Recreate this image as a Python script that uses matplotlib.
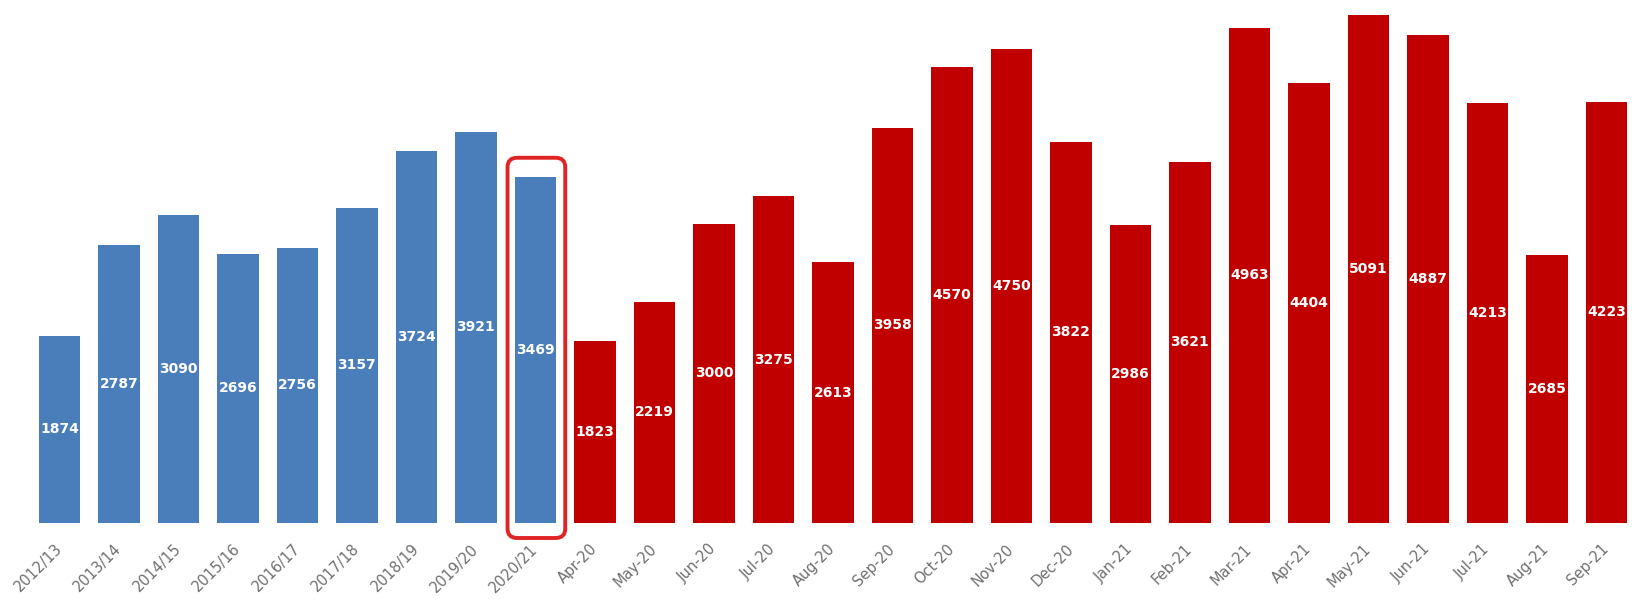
import matplotlib
matplotlib.use("Agg")
import matplotlib.pyplot as plt
from matplotlib.patches import FancyBboxPatch

# Annual totals followed by monthly counts
annual_labels = ["2012/13", "2013/14", "2014/15", "2015/16", "2016/17",
                 "2017/18", "2018/19", "2019/20", "2020/21"]
annual_values = [1874, 2787, 3090, 2696, 2756, 3157, 3724, 3921, 3469]

monthly_labels = ["Apr-20", "May-20", "Jun-20", "Jul-20", "Aug-20", "Sep-20",
                  "Oct-20", "Nov-20", "Dec-20", "Jan-21", "Feb-21", "Mar-21",
                  "Apr-21", "May-21", "Jun-21", "Jul-21", "Aug-21", "Sep-21"]
monthly_values = [1823, 2219, 3000, 3275, 2613, 3958, 4570, 4750, 3822,
                  2986, 3621, 4963, 4404, 5091, 4887, 4213, 2685, 4223]

highlight_label = "2020/21"

BLUE = "#4a7ebb"
RED = "#c00000"

labels = annual_labels + monthly_labels
values = annual_values + monthly_values
colors = [BLUE] * len(annual_values) + [RED] * len(monthly_values)
xs = list(range(len(labels)))

W, H, DPI = 1641, 599, 100
fig = plt.figure(figsize=(W / DPI, H / DPI), dpi=DPI)
bottom_px = 76
ax = fig.add_axes([0, bottom_px / H, 1, (H - bottom_px) / H])

ax.bar(xs, values, width=0.7, color=colors, zorder=2)
ax.axhline(0, color="#e6dcd6", linewidth=0.8, zorder=1)

for x, v in zip(xs, values):
    ax.text(x, v / 2, str(v), ha="center", va="center", color="white",
            fontsize=10, fontweight="bold", zorder=3)

ax.set_xlim(-1.0, 26.58)
ax.set_ylim(0, 5240)
ax.set_xticks(xs)
ax.set_xticklabels(labels, rotation=45, ha="right", va="center",
                   rotation_mode="anchor", fontsize=10.5, color="#707070")
ax.tick_params(axis="x", length=0, pad=17)
ax.set_yticks([])
for s in ax.spines.values():
    s.set_visible(False)

# Rounded frame around the highlighted year
hi = labels.index(highlight_label)
hv = values[hi]
px_per_x = 59.3
units_per_px = 5240 / (H - bottom_px)
box = FancyBboxPatch((hi - 0.47, -15 * units_per_px), 0.97,
                     hv + 34 * units_per_px,
                     boxstyle="round,pad=0,rounding_size=0.16",
                     mutation_aspect=px_per_x * units_per_px,
                     fill=False, edgecolor="#e02424", linewidth=2.8,
                     clip_on=False, zorder=4)
ax.add_patch(box)

fig.savefig("out.png", dpi=DPI)
